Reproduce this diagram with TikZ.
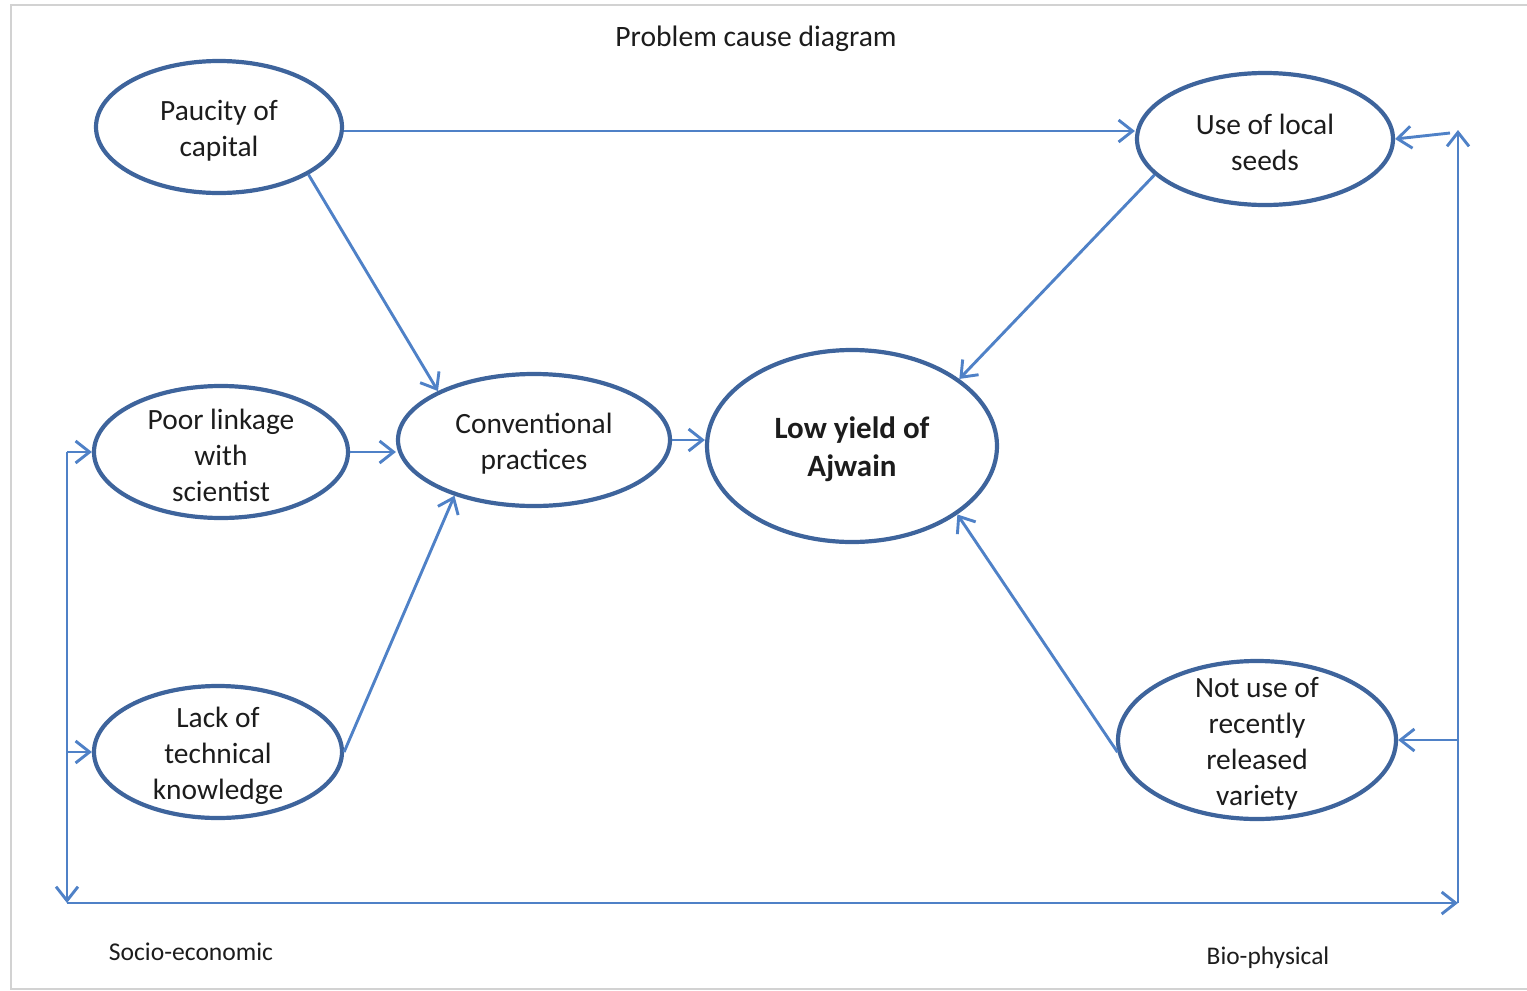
\documentclass[tikz,border=0pt]{standalone}
\usepackage{fontspec}
\setmainfont{Carlito}
\usetikzlibrary{shapes.geometric,arrows.meta}
\definecolor{rim}{HTML}{3E649C}
\definecolor{link}{HTML}{4F81C7}
\definecolor{ink}{HTML}{1C1C1C}
% set a line of a label slightly low without changing its box
\newcommand\dropline[1]{\raisebox{-1.8pt}[\height][\depth]{#1}}
\tikzset{
  cause/.style={ellipse,draw=rim,line width=2.1pt,inner xsep=0pt,inner ysep=-30pt,
    align=center,text=ink,font=\fontsize{14.7}{18}\selectfont},
  flow/.style={draw=link,line width=1.45pt,
    -{Straight Barb[length=7pt,width=11pt]}},
  plain/.style={draw=link,line width=1.45pt},
  caption/.style={text=ink,inner sep=0pt}
}
\begin{document}
\begin{tikzpicture}[x=0.5pt,y=-0.5pt]
\useasboundingbox (0,0) rectangle (1527,991);
% page edge
\draw[gray!35,line width=1.2pt] (1527,5) -- (11,5) -- (11,989) -- (1527,989);

\node[caption,font=\fontsize{14.8}{18}\selectfont] (title) at (756,39) {Problem cause diagram};

% causes (sizes in pt, half the pixel extent)
\node[cause,minimum width=123pt,minimum height=66pt] (pc) at (219,127)
  {\dropline{Paucity of}\\\dropline{capital}};
\node[cause,minimum width=128pt,minimum height=66pt] (uls) at (1265,139)
  {\dropline{Use of local}\\\dropline{seeds}};
\node[cause,minimum width=127pt,minimum height=66pt] (pl) at (221,452)
  {\dropline{Poor linkage}\\\dropline{with}\\\dropline{scientist}};
\node[cause,minimum width=136pt,minimum height=66pt] (cp) at (534,440)
  {\dropline{Conventional}\\\dropline{practices}};
\node[cause,minimum width=145pt,minimum height=96pt,font=\fontsize{15.5}{19}\selectfont\bfseries] (ly) at (852,446)
  {\dropline{Low yield of}\\\dropline{Ajwain}};
\node[cause,minimum width=124pt,minimum height=66pt] (lk) at (218,752)
  {\dropline{Lack of}\\\dropline{technical}\\\dropline{knowledge}};
\node[cause,minimum width=139pt,minimum height=79pt] (nu) at (1257,740)
  {\dropline{Not use of}\\\dropline{recently}\\\dropline{released}\\\dropline{variety}};

% direct links
\draw[flow] (pc.east |- 0,131) -- (uls.west |- 0,131);
\draw[flow] (pc.-28.6) -- (cp.153.4);
\draw[flow] (pl.east) -- (cp.west |- pl.east);
\draw[flow] (lk.east) -- (cp.215.8);
\draw[flow] (cp.east) -- (ly.west |- cp.east);
\draw[flow] (uls.198.6) -- (ly.32.2);
\draw[flow] (nu.185) -- (ly.-33.4);

% feedback frame
\coordinate (sa) at (67,452);
\coordinate (sb) at (67,752);
\coordinate (sc) at (67,903);
\coordinate (bc) at (1458,903);
\coordinate (bt) at (1458,130);
\coordinate (bn) at (1458,740);
\coordinate (bu) at (1450,133);
\draw[plain] (sb) -- (sa);
\draw[flow] (sb) -- (sc);
\draw[flow] (sa) -- (pl.west);
\draw[flow] (sb) -- (lk.west);
\draw[flow] (sc) -- (bc);
\draw[flow] (bc) -- (bt);
\draw[flow] (bn) -- (nu.east);
\draw[flow] (bu) -- (uls.east);

\node[caption,font=\fontsize{12.8}{15}\selectfont] (se) at (191,952) {Socio-economic};
\node[caption,font=\fontsize{12.7}{15}\selectfont] (bp) at (1268,958) {Bio-physical};
\end{tikzpicture}
\end{document}
